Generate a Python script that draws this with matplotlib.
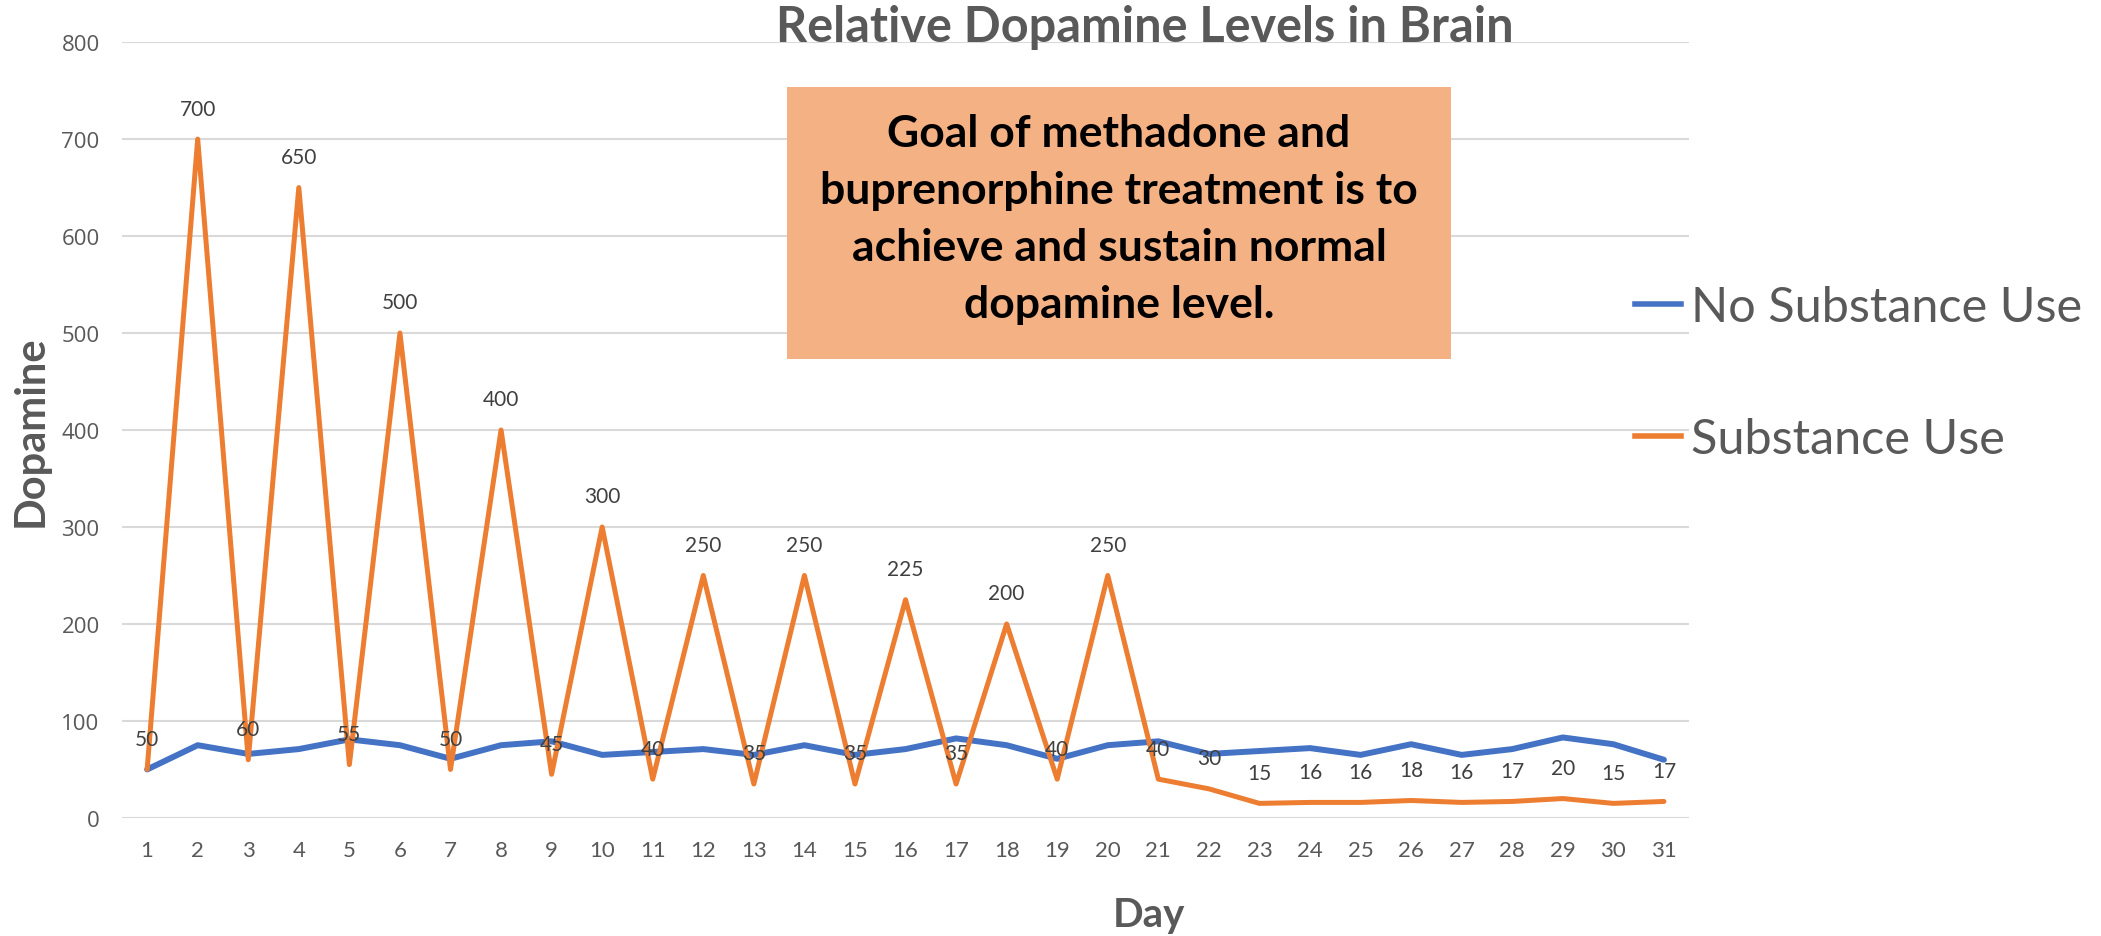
import matplotlib.pyplot as plt
from matplotlib.patches import Rectangle
from matplotlib.lines import Line2D

days = list(range(1, 32))
no_use = [50, 75, 66, 71, 81, 75, 61, 75, 79, 65, 68, 71, 65, 75, 65, 71,
          82, 75, 61, 75, 79, 66, 69, 72, 65, 76, 65, 71, 83, 76, 60]
use = [50, 700, 60, 650, 55, 500, 50, 400, 45, 300, 40, 250, 35, 250, 35, 225,
       35, 200, 40, 250, 40, 30, 15, 16, 16, 18, 16, 17, 20, 15, 17]
y_ticks = [0, 100, 200, 300, 400, 500, 600, 700, 800]

blue = '#4472C4'
orange = '#ED7D31'
grey = '#595959'

fig = plt.figure(figsize=(21.01, 9.37), dpi=100)
ax = fig.add_axes([0.058, 0.126, 0.746, 0.828])

ax.plot(days, no_use, color=blue, lw=4.3, solid_capstyle='round', zorder=3)
ax.plot(days, use, color=orange, lw=3.6, solid_capstyle='round', zorder=3)

for d, v in zip(days, use):
    ax.annotate(str(v), (d, v), xytext=(0, 22), textcoords='offset points',
                ha='center', va='center', fontsize=15, color='#404040',
                family='Lato', zorder=4)

ax.set_xlim(0.5, 31.5)
ax.set_ylim(0, 800)
ax.set_yticks(y_ticks)
ax.set_xticks(days)
ax.grid(axis='y', color='#D9D9D9', lw=1.5)
ax.set_axisbelow(True)
for s in ax.spines.values():
    s.set_visible(False)
ax.tick_params(axis='y', length=0, pad=16, labelsize=16, labelcolor=grey,
               labelfontfamily='Open Sans')
ax.tick_params(axis='x', length=0, pad=16, labelsize=16, labelcolor=grey,
               labelfontfamily='Lato')

ax.set_ylabel('Dopamine', fontsize=30, fontweight='bold', color=grey, family='Lato')
ax.yaxis.set_label_coords(-0.046, 0.5)
ax.set_xlabel('Day', fontsize=29, fontweight='bold', color=grey, family='Lato')
ax.xaxis.set_label_coords(0.655, -0.1)

fig.text(0.545, 0.971, 'Relative Dopamine Levels in Brain', ha='center', va='center',
         fontsize=35, fontweight='bold', color=grey, family='Lato')

fig.patches.append(Rectangle((0.3746, 0.6158), 0.316, 0.290, transform=fig.transFigure,
                             facecolor='#F4B183', edgecolor='none', zorder=1))
fig.text(0.5326, 0.766,
         'Goal of methadone and\nbuprenorphine treatment is to\nachieve and sustain normal\ndopamine level.',
         ha='center', va='center', fontsize=32, fontweight='bold', color='black',
         family='Lato', linespacing=1.52, zorder=3)

handles = [Line2D([], [], color=blue, lw=4), Line2D([], [], color=orange, lw=4)]
fig.legend(handles, ['No Substance Use', 'Substance Use'], loc='center left',
           bbox_to_anchor=(0.7665, 0.601), frameon=False,
           labelcolor=grey, prop={'family': 'Lato', 'size': 35}, borderpad=0,
           handlelength=0.95, handletextpad=0.2, labelspacing=1.8)

fig.savefig('out.png', dpi=100)
